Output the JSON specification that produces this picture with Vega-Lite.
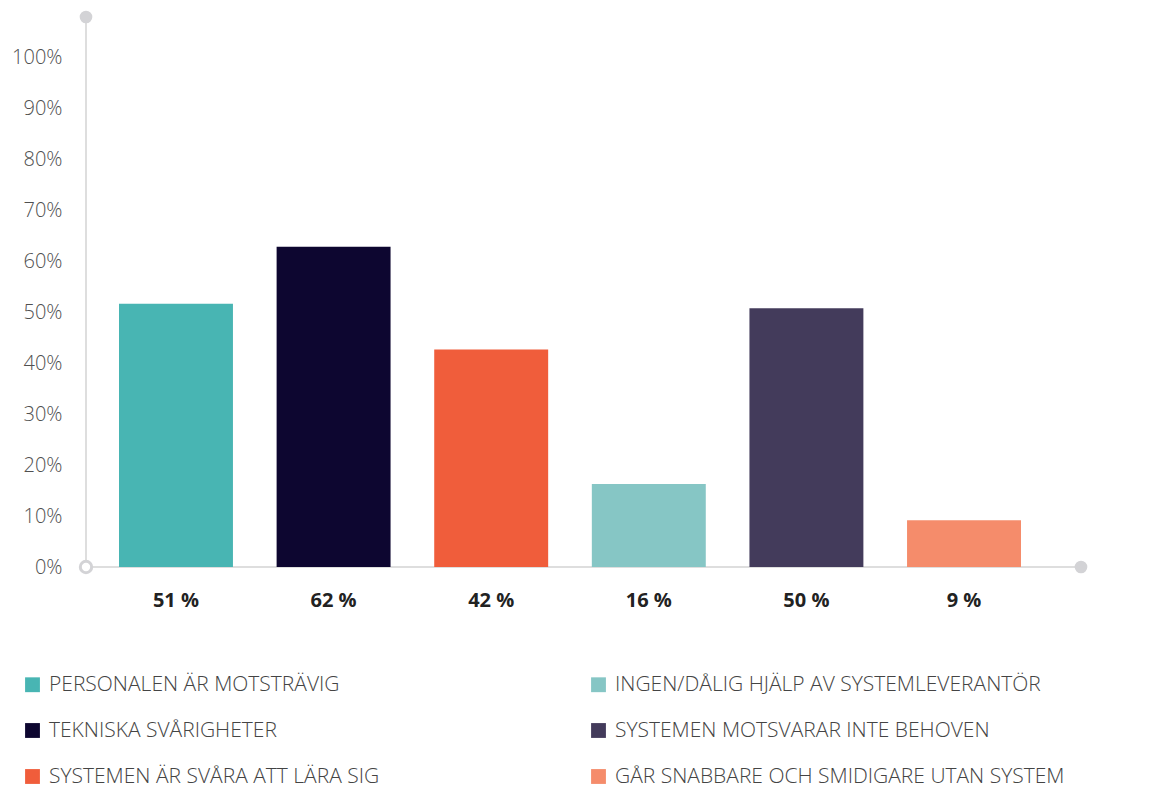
{
  "$schema": "https://vega.github.io/schema/vega-lite/v6.json",
  "autosize": {"type": "none"},
  "padding": {"left": 86, "top": 17, "right": 79, "bottom": 223},
  "width": 995,
  "height": 550,
  "background": "white",
  "config": {
    "view": {"stroke": null},
    "font": "Open Sans"
  },
  "datasets": {
    "bars": [
      {"category": "PERSONALEN ÄR MOTSTRÄVIG", "label": "51 %", "value": 51.7},
      {"category": "TEKNISKA SVÅRIGHETER", "label": "62 %", "value": 62.9},
      {"category": "SYSTEMEN ÄR SVÅRA ATT LÄRA SIG", "label": "42 %", "value": 42.7},
      {"category": "INGEN/DÅLIG HJÄLP AV SYSTEMLEVERANTÖR", "label": "16 %", "value": 16.3},
      {"category": "SYSTEMEN MOTSVARAR INTE BEHOVEN", "label": "50 %", "value": 50.8},
      {"category": "GÅR SNABBARE OCH SMIDIGARE UTAN SYSTEM", "label": "9 %", "value": 9.2}
    ],
    "axislines": [
      {"px": 0, "px2": 0, "py": 0, "py2": 108},
      {"px": 0, "px2": 1, "py": 0, "py2": 0}
    ],
    "dots": [
      {"px": 0, "py": 108, "kind": "filled"},
      {"px": 1, "py": 0, "kind": "filled"},
      {"px": 0, "py": 0, "kind": "hollow"}
    ]
  },
  "layer": [
    {
      "data": {"name": "axislines"},
      "mark": {"type": "rule", "color": "#dedede", "strokeWidth": 2},
      "encoding": {
        "x": {"field": "px", "type": "quantitative", "scale": {"domain": [0, 1]}, "axis": null},
        "x2": {"field": "px2"},
        "y": {
          "field": "py", "type": "quantitative", "scale": {"domain": [0, 108], "nice": false, "zero": true},
          "axis": {
            "title": null, "domain": false, "ticks": false, "grid": false,
            "values": [0, 10, 20, 30, 40, 50, 60, 70, 80, 90, 100],
            "labelExpr": "datum.value + '%'",
            "labelFont": "Open Sans", "labelFontSize": 20, "labelFontWeight": 300,
            "labelColor": "#505050", "labelPadding": 24
          }
        },
        "y2": {"field": "py2"}
      }
    },
    {
      "data": {"name": "bars"},
      "mark": {"type": "bar"},
      "encoding": {
        "x": {
          "field": "label", "type": "nominal", "sort": null,
          "scale": {"range": [33, 935], "paddingInner": 0.277, "paddingOuter": 0},
          "axis": {
            "title": null, "domain": false, "ticks": false, "labelAngle": 0,
            "labelFont": "Open Sans", "labelFontSize": 20, "labelFontWeight": 700,
            "labelColor": "#222222", "labelPadding": 23
          }
        },
        "y": {"field": "value", "type": "quantitative", "title": null, "scale": {"domain": [0, 108], "nice": false}},
        "color": {
          "field": "category", "type": "nominal",
          "scale": {
            "domain": [
              "PERSONALEN ÄR MOTSTRÄVIG",
              "TEKNISKA SVÅRIGHETER",
              "SYSTEMEN ÄR SVÅRA ATT LÄRA SIG",
              "INGEN/DÅLIG HJÄLP AV SYSTEMLEVERANTÖR",
              "SYSTEMEN MOTSVARAR INTE BEHOVEN",
              "GÅR SNABBARE OCH SMIDIGARE UTAN SYSTEM"
            ],
            "range": ["#48b5b3", "#0d0630", "#f05d3b", "#86c6c5", "#433b5b", "#f58c6b"]
          },
          "legend": {
            "title": null, "orient": "none", "legendX": -64, "legendY": 657, "padding": 0,
            "columns": 2, "columnPadding": 208, "rowPadding": 24,
            "symbolType": "square", "symbolSize": 220, "symbolStrokeWidth": 0, "symbolOpacity": 1,
            "labelFont": "Open Sans", "labelFontSize": 21, "labelFontWeight": 300,
            "labelColor": "#444444", "labelOffset": 6, "labelLimit": 700
          }
        }
      }
    },
    {
      "data": {"name": "dots"},
      "transform": [{"filter": "datum.kind == 'filled'"}],
      "mark": {"type": "point", "shape": "circle", "filled": true, "color": "#d3d3d6", "size": 160, "opacity": 1},
      "encoding": {
        "x": {"field": "px", "type": "quantitative", "scale": {"domain": [0, 1]}, "axis": null},
        "y": {"field": "py", "type": "quantitative", "title": null, "scale": {"domain": [0, 108], "nice": false}}
      }
    },
    {
      "data": {"name": "dots"},
      "transform": [{"filter": "datum.kind == 'hollow'"}],
      "mark": {"type": "point", "shape": "circle", "filled": false, "fill": "white", "fillOpacity": 1, "stroke": "#d3d3d6", "strokeWidth": 3, "size": 130, "opacity": 1},
      "encoding": {
        "x": {"field": "px", "type": "quantitative", "scale": {"domain": [0, 1]}, "axis": null},
        "y": {"field": "py", "type": "quantitative", "title": null, "scale": {"domain": [0, 108], "nice": false}}
      }
    }
  ],
  "resolve": {"scale": {"x": "independent"}}
}
